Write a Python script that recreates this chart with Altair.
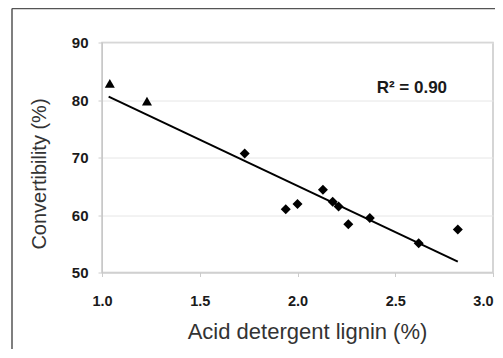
import altair as alt
import pandas as pd

# Diamonds (main set)
adl_diamond = [1.73, 1.94, 2.00, 2.13, 2.18, 2.21, 2.26, 2.37, 2.62, 2.82]
conv_diamond = [70.7, 61.0, 61.9, 64.4, 62.3, 61.5, 58.4, 59.5, 55.1, 57.5]
# Triangles
adl_triangle = [1.04, 1.23]
conv_triangle = [82.9, 79.8]
# Regression line endpoints
fit_x = [1.034, 2.82]
fit_y = [80.6, 51.9]
# Annotation
r2_label = ["R\u00b2 = 0.90"]
r2_x = [2.585]
r2_y = [82.1]

x_ticks = [1.0, 1.5, 2.0, 2.5, 3.0]
y_ticks = [50, 60, 70, 80, 90]

W, H = 391, 230

df_d = pd.DataFrame({"adl": adl_diamond, "conv": conv_diamond})
df_t = pd.DataFrame({"adl": adl_triangle, "conv": conv_triangle})
df_f = pd.DataFrame({"adl": fit_x, "conv": fit_y})
df_r = pd.DataFrame({"adl": r2_x, "conv": r2_y, "t": r2_label})

xs = alt.Scale(domain=[1, 3], nice=False, padding=0)
ys = alt.Scale(domain=[50, 90], nice=False, zero=False, padding=0)

x_axis = alt.Axis(values=x_ticks, format=".1f", title="Acid detergent lignin (%)",
                  grid=False, labelFlush=False, labelFont="Liberation Sans",
                  labelFontWeight="bold", labelFontSize=14.5, labelColor="#1a1a1a",
                  labelAlign=alt.ConditionalAxisLabelAlign(
                      condition={"test": "datum.value >= 3", "value": "right"},
                      value="center"),
                  labelPadding=18, tickSize=4, tickColor="#cccccc", domainColor="#c8c8c8",
                  titleFont="Liberation Sans", titleFontSize=22, titleFontWeight="normal",
                  titleColor="#333333", titlePadding=13, titleX=205)
y_axis = alt.Axis(values=y_ticks, format="d", title="Convertibility (%)",
                  grid=True, gridColor="#e6e6e6", labelFlush=False,
                  labelFont="Liberation Sans", labelFontWeight="bold", labelFontSize=15,
                  labelColor="#1a1a1a", labelPadding=10, tickSize=4, tickColor="#cccccc",
                  domainColor="#c8c8c8", titleFont="Liberation Sans", titleFontSize=20,
                  titleFontWeight="normal", titleColor="#333333", titlePadding=22,
                  titleY=131)

x_enc = alt.X("adl:Q", scale=xs, axis=x_axis)
y_enc = alt.Y("conv:Q", scale=ys, axis=y_axis)

diamonds = alt.Chart(df_d).mark_point(shape="diamond", filled=True, color="black",
                                     size=100, opacity=1).encode(x=x_enc, y=y_enc)
triangles = alt.Chart(df_t).mark_point(shape="triangle-up", filled=True, color="black",
                                      size=100, opacity=1).encode(x="adl:Q", y="conv:Q")
fit = alt.Chart(df_f).mark_line(color="black", strokeWidth=2).encode(x="adl:Q", y="conv:Q")
r2 = alt.Chart(df_r).mark_text(font="Liberation Sans", fontWeight="bold", fontSize=17,
                               color="#1a1a1a").encode(x="adl:Q", y="conv:Q", text="t:N")

# outer figure frame (left and top edges)
frame_df = pd.DataFrame({"k": [0]})
frame_top = alt.Chart(frame_df).mark_rule(color="#555555", strokeWidth=1.5).encode(
    x=alt.value(-90), x2=alt.value(401), y=alt.value(-34))
frame_left = alt.Chart(frame_df).mark_rule(color="#555555", strokeWidth=1.5).encode(
    x=alt.value(-90), y=alt.value(-34), y2=alt.value(320))

chart = alt.layer(frame_top, frame_left, fit, diamonds, triangles, r2).properties(
    width=W, height=H,
    autosize=alt.AutoSizeParams(type="none"),
    padding={"left": 94, "top": 34.5, "right": 2, "bottom": 76.5},
    background="white",
).configure_view(stroke="#c8c8c8", strokeWidth=1.5)

chart.save("out.html", embed_options={"renderer": "svg", "actions": False})
